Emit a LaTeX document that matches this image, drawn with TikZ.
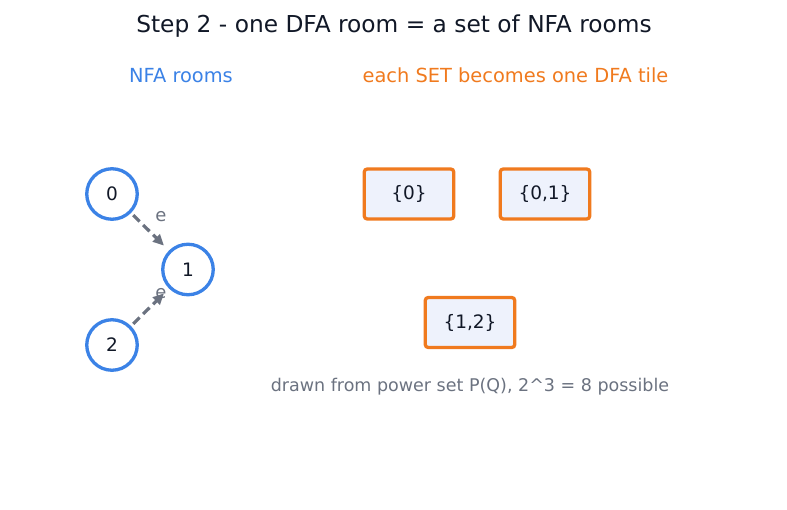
\documentclass[tikz,border=0pt]{standalone}
\usepackage{fontspec}
\setmainfont{DejaVu Sans}
\usetikzlibrary{arrows.meta}
\definecolor{nblue}{HTML}{3B82E6}
\definecolor{norange}{HTML}{F07A1E}
\definecolor{ngray}{HTML}{6B7280}
\definecolor{nfill}{HTML}{EEF2FC}
\definecolor{ntitle}{HTML}{111827}
\definecolor{ntext}{HTML}{111827}
\begin{document}
\begin{tikzpicture}[x=1pt,y=-1pt,
  nfa/.style={circle,draw=nblue,line width=3.3pt,fill=white,minimum size=50.5pt,inner sep=0pt,text=ntext,font=\fontsize{18.5}{20}\selectfont},
  tile/.style={rectangle,rounded corners=3pt,draw=norange,line width=3.3pt,fill=nfill,minimum width=89.5pt,minimum height=50pt,inner sep=0pt,text=ntext,font=\fontsize{18.5}{20}\selectfont},
  eps/.style={draw=ngray,line width=3.2pt,dash pattern=on 9pt off 5pt,-{Triangle[length=11pt,width=10pt]},shorten <=3pt,shorten >=7pt},
  elabel/.style={text=ngray,font=\fontsize{18}{20}\selectfont,inner sep=0pt},
  head/.style={font=\fontsize{19.4}{22}\selectfont,inner sep=0pt}
]
\useasboundingbox (0,0) rectangle (787,510);
\node[text=ntitle,font=\fontsize{23.3}{27}\selectfont,inner sep=0pt] (title) at (394,26.5) {Step 2 - one DFA room = a set of NFA rooms};
\node[head,text=nblue] (h1) at (181,75.5) {NFA rooms};
\node[head,text=norange] (h2) at (515.5,75.5) {each SET becomes one DFA tile};

\node[nfa] (n0) at (112,194) {0};
\node[nfa] (n1) at (188,269.5) {1};
\node[nfa] (n2) at (112,345) {2};

\draw[eps] (n0) -- (n1) node[elabel,pos=0.5,xshift=11pt,yshift=15pt] (e1) {e};
\draw[eps] (n2) -- (n1) node[elabel,pos=0.5,xshift=11pt,yshift=14pt] (e2) {e};

\node[tile] (t0) at (409,194) {\{0\}};
\node[tile] (t01) at (545,194) {\{0,1\}};
\node[tile] (t12) at (470,322.5) {\{1,2\}};

\node[text=ngray,font=\fontsize{17.5}{20}\selectfont,inner sep=0pt] (cap) at (470,386.5) {drawn from power set P(Q), 2\^{}3 = 8 possible};
\end{tikzpicture}
\end{document}
